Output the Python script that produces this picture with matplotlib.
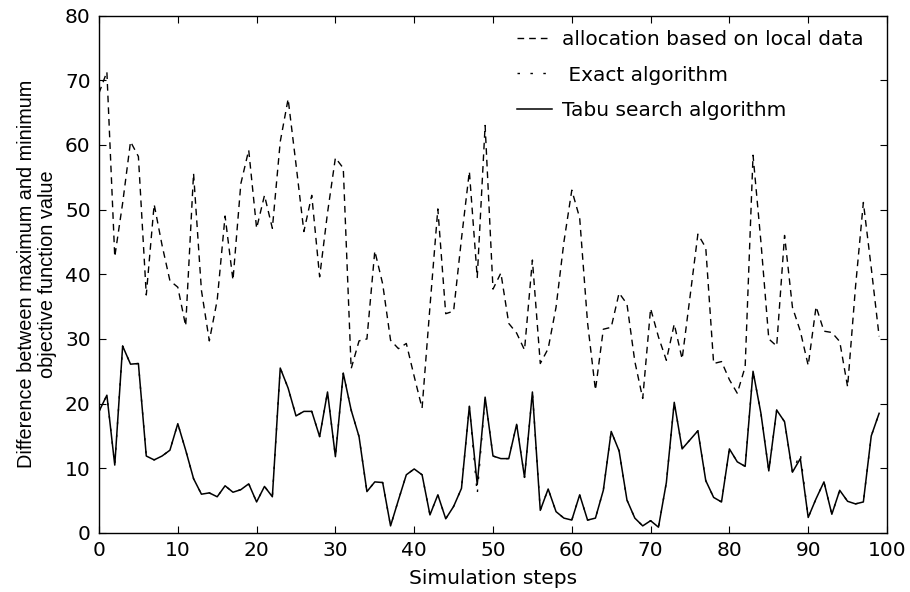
import matplotlib
matplotlib.use("Agg")
import matplotlib.pyplot as plt
import numpy as np

steps = list(range(100))

local_data = [68, 71.3, 42.7, 51, 60.5, 58.2, 36.8, 50.8, 44.5, 39,
              38, 32, 55.6, 37.5, 29.7, 36, 49, 39.1, 54, 59.2,
              47.1, 52.2, 47.1, 60.5, 67.1, 57, 46.6, 52.2, 39.6, 49.5,
              58, 56.4, 25.4, 29.7, 30, 43.6, 38.5, 29.8, 28.5, 29.3,
              24.2, 19.3, 35, 50.1, 33.9, 34.3, 45.5, 55.9, 39.5, 63,
              37.7, 40.2, 32.4, 30.9, 28.3, 42.2, 26.2, 28.5, 34.9, 45,
              53, 48.7, 32.5, 22.1, 31.5, 31.8, 37.1, 35.4, 26.5, 20.8,
              34.7, 30.3, 26.7, 32.3, 26.9, 36.5, 46.2, 44.1, 26.2, 26.5,
              23.7, 21.6, 25.7, 58.4, 45, 30, 28.9, 46, 34.9, 31.2,
              25.9, 35, 31.2, 31, 29.6, 22.6, 38, 51.1, 41, 30.4]

tabu = [18.8, 21.3, 10.5, 28.9, 26.1, 26.2, 11.9, 11.3, 11.9, 12.8,
        16.9, 12.8, 8.4, 6.0, 6.2, 5.6, 7.3, 6.3, 6.7, 7.6,
        4.8, 7.2, 5.6, 25.5, 22.4, 18.1, 18.8, 18.8, 14.9, 21.8,
        11.8, 24.7, 19.0, 14.9, 6.4, 7.9, 7.8, 1.1, 5.1, 9.0,
        9.9, 9.0, 2.8, 5.9, 2.2, 4.1, 6.9, 19.6, 7.5, 21.0,
        11.9, 11.5, 11.5, 16.8, 8.6, 21.8, 3.5, 6.8, 3.3, 2.3,
        2.0, 5.9, 2.0, 2.3, 6.6, 15.7, 12.7, 5.1, 2.3, 1.1,
        1.9, 0.9, 7.8, 20.2, 13.0, 14.4, 15.8, 8.1, 5.5, 4.8,
        13.0, 11.0, 10.3, 25.0, 18.5, 9.6, 19.0, 17.2, 9.4, 11.5,
        2.4, 5.3, 7.9, 2.9, 6.6, 4.9, 4.5, 4.8, 15.0, 18.5]

exact = list(tabu)
exact[48] = 6.0
exact[89] = 12.3

labels = ["allocation based on local data", " Exact algorithm", "Tabu search algorithm"]
xticks = [0, 10, 20, 30, 40, 50, 60, 70, 80, 90, 100]
yticks = [0, 10, 20, 30, 40, 50, 60, 70, 80]

plt.rcParams['font.family'] = ['DejaVu Sans']
fs = 14.5

fig = plt.figure(figsize=(9.1, 5.92), dpi=100)
ax = fig.add_axes([99/910, 1-533/592, (887-99)/910, (533-15.5)/592])

l1, = ax.plot(steps, local_data, color='black', lw=1.0, linestyle=(0, (4.8, 3.6)))
l2, = ax.plot(steps, exact, color='black', lw=1.0, linestyle=(0, (1.8, 7.5)))
l3, = ax.plot(steps, tabu, color='black', lw=1.1, linestyle='-')

ax.set_xlim(0, 100)
ax.set_ylim(0, 80)
ax.set_xticks(xticks)
ax.set_yticks(yticks)
ax.tick_params(direction='in', length=5, width=0.8, top=True, right=True,
               labelsize=fs, pad=6)
for s in ax.spines.values():
    s.set_linewidth(1.0)

ax.set_xlabel("Simulation steps", fontsize=fs, labelpad=6)
ax.set_ylabel("Difference between maximum and minimum\nobjective function value",
              fontsize=14.3, family=['Liberation Sans', 'DejaVu Sans'],
              labelpad=6, linespacing=1.1)

leg = ax.legend([l1, l2, l3], labels, loc='upper left',
                bbox_to_anchor=((517-99)/788, 1-(30-15.5)/517.5),
                frameon=False, fontsize=fs, handlelength=1.74,
                handletextpad=0.5, labelspacing=0.82, borderpad=0,
                borderaxespad=0)

fig.savefig("out.png", dpi=100)
